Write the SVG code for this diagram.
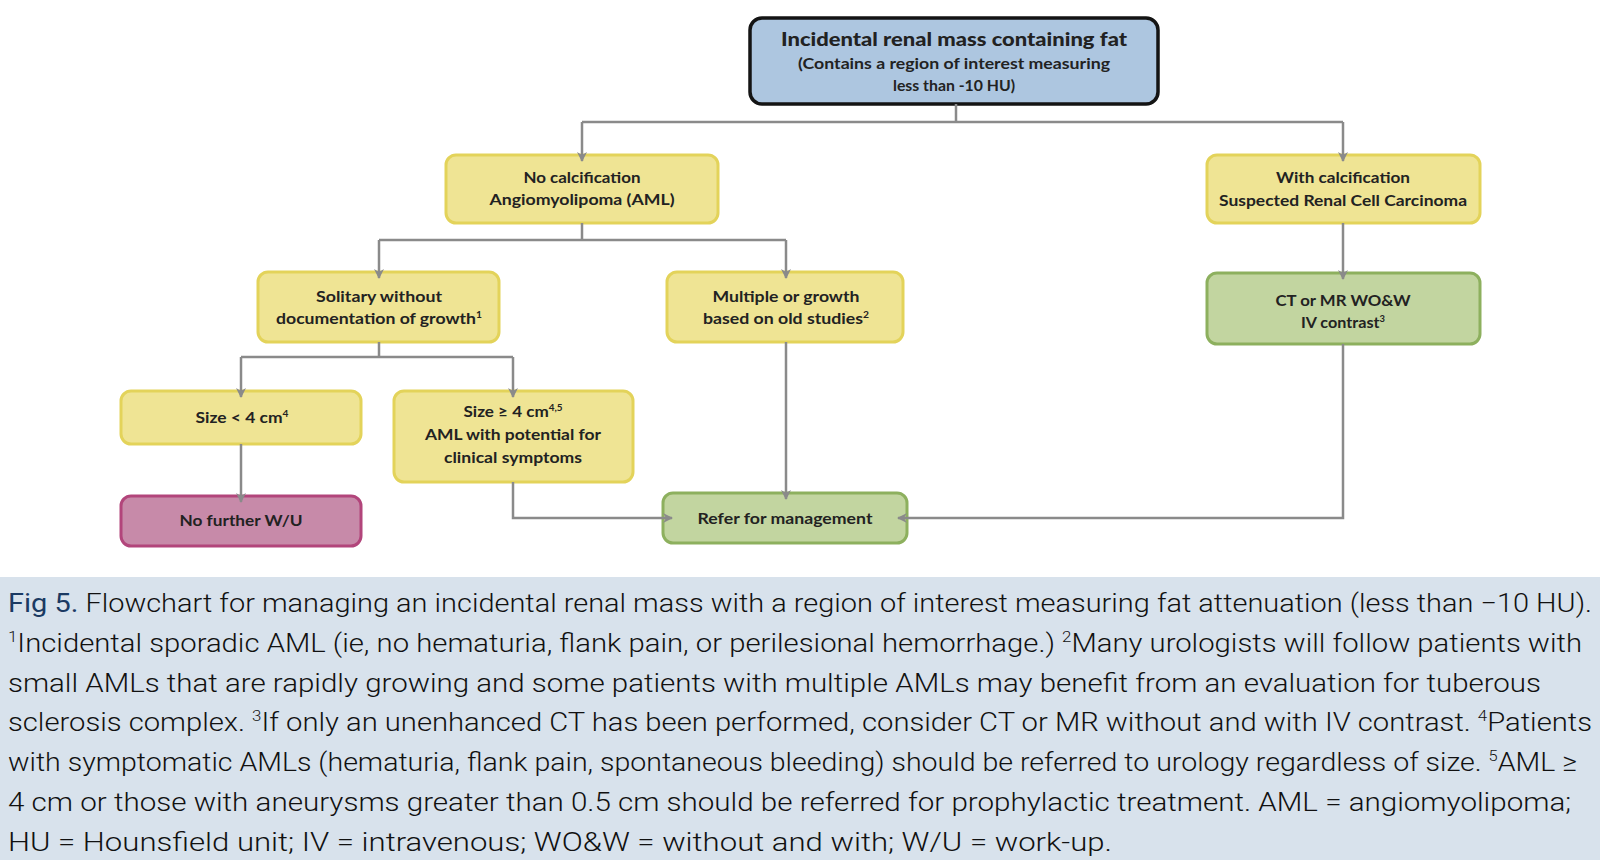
<svg xmlns="http://www.w3.org/2000/svg" width="1600" height="860" viewBox="0 0 1600 860">
<defs>
<marker id="arr" viewBox="0 0 10 10" refX="9" refY="5" markerWidth="10" markerHeight="10" markerUnits="userSpaceOnUse" orient="auto">
<path d="M0,0 L10,5 L0,10 L3,5 z" fill="#8a8a8a"/>
</marker>
</defs>
<style>
.n text{font-family:"Lato","Open Sans",sans-serif;font-weight:700;font-size:15.5px;fill:#222;text-anchor:middle}
.y{fill:#efe494;stroke:#e3d35a;stroke-width:3}
.g{fill:#c2d5a0;stroke:#8db05e;stroke-width:3}
.p{fill:#c78aa9;stroke:#b2457b;stroke-width:3}
.b{fill:#adc6e0;stroke:#141414;stroke-width:3.5}
.c{fill:none;stroke:#8a8a8a;stroke-width:2.5}
.cap{font-family:"Roboto","Liberation Sans",sans-serif;font-weight:300;font-size:26px;fill:#111}
.sup{font-size:15px}
</style>
<rect x="0" y="0" width="1600" height="860" fill="#ffffff"/>
<rect x="0" y="577" width="1600" height="283" fill="#d8e2ec"/>

<g id="n-top" class="n">
<rect class="b" x="750" y="18" width="408" height="86" rx="12"/>
<text x="954" y="46" style="font-size:18px;font-weight:900" textLength="346" lengthAdjust="spacingAndGlyphs">Incidental renal mass containing fat</text>
<text x="954" y="69" style="font-size:15px" textLength="312" lengthAdjust="spacingAndGlyphs">(Contains a region of interest measuring</text>
<text x="954" y="91" style="font-size:15px" textLength="122" lengthAdjust="spacingAndGlyphs">less than -10 HU)</text>
</g>

<g id="n-nocalc" class="n">
<rect class="y" x="446" y="155" width="272" height="68" rx="10"/>
<text x="582" y="183" textLength="117" lengthAdjust="spacingAndGlyphs">No calcification</text>
<text x="582" y="205" textLength="185" lengthAdjust="spacingAndGlyphs">Angiomyolipoma (AML)</text>
</g>

<g id="n-withcalc" class="n">
<rect class="y" x="1207" y="155" width="273" height="68" rx="10"/>
<text x="1343" y="183" textLength="134" lengthAdjust="spacingAndGlyphs">With calcification</text>
<text x="1343" y="206" textLength="248" lengthAdjust="spacingAndGlyphs">Suspected Renal Cell Carcinoma</text>
</g>

<g id="n-ct" class="n">
<rect class="g" x="1207" y="273" width="273" height="71" rx="10"/>
<text x="1343" y="306" textLength="135" lengthAdjust="spacingAndGlyphs">CT or MR WO&amp;W</text>
<text x="1343" y="328" textLength="84" lengthAdjust="spacingAndGlyphs">IV contrast<tspan font-size="9" dy="-6">3</tspan></text>
</g>

<g id="n-solitary" class="n">
<rect class="y" x="258" y="272" width="241" height="70" rx="10"/>
<text x="379" y="302" textLength="126" lengthAdjust="spacingAndGlyphs">Solitary without</text>
<text x="379" y="324" textLength="206" lengthAdjust="spacingAndGlyphs">documentation of growth<tspan font-size="9" dy="-6">1</tspan></text>
</g>

<g id="n-multiple" class="n">
<rect class="y" x="667" y="272" width="236" height="70" rx="10"/>
<text x="786" y="302" textLength="147" lengthAdjust="spacingAndGlyphs">Multiple or growth</text>
<text x="786" y="324" textLength="166" lengthAdjust="spacingAndGlyphs">based on old studies<tspan font-size="9" dy="-6">2</tspan></text>
</g>

<g id="n-small" class="n">
<rect class="y" x="121" y="391" width="240" height="53" rx="10"/>
<text x="242" y="423" textLength="93" lengthAdjust="spacingAndGlyphs">Size &lt; 4 cm<tspan font-size="9" dy="-6">4</tspan></text>
</g>

<g id="n-large" class="n">
<rect class="y" x="394" y="391" width="239" height="91" rx="10"/>
<text x="513" y="417" textLength="99" lengthAdjust="spacingAndGlyphs">Size ≥ 4 cm<tspan font-size="9" dy="-6">4,5</tspan></text>
<text x="513" y="440" textLength="176" lengthAdjust="spacingAndGlyphs">AML with potential for</text>
<text x="513" y="463" textLength="138" lengthAdjust="spacingAndGlyphs">clinical symptoms</text>
</g>

<g id="n-nofurther" class="n">
<rect class="p" x="121" y="496" width="240" height="50" rx="10"/>
<text x="241" y="526" textLength="123" lengthAdjust="spacingAndGlyphs">No further W/U</text>
</g>

<g id="n-refer" class="n">
<rect class="g" x="663" y="493" width="244" height="50" rx="10"/>
<text x="785" y="524" textLength="175" lengthAdjust="spacingAndGlyphs">Refer for management</text>
</g>

<g id="connectors">
<path class="c" d="M956,104 V122 M582,122 H1343"/>
<path class="c" d="M582,122 V161" marker-end="url(#arr)"/>
<path class="c" d="M1343,122 V161" marker-end="url(#arr)"/>
<path class="c" d="M582,223 V240 M379,240 H786"/>
<path class="c" d="M379,240 V278" marker-end="url(#arr)"/>
<path class="c" d="M786,240 V278" marker-end="url(#arr)"/>
<path class="c" d="M1343,223 V279" marker-end="url(#arr)"/>
<path class="c" d="M379,342 V357 M241,357 H513"/>
<path class="c" d="M241,357 V397" marker-end="url(#arr)"/>
<path class="c" d="M513,357 V397" marker-end="url(#arr)"/>
<path class="c" d="M241,444 V502" marker-end="url(#arr)"/>
<path class="c" d="M786,342 V499" marker-end="url(#arr)"/>
<path class="c" d="M513,482 V518 H672" marker-end="url(#arr)"/>
<path class="c" d="M1343,344 V518 H898" marker-end="url(#arr)"/>
</g>

<g id="caption">
<text class="cap" x="8" y="612" textLength="1584" lengthAdjust="spacingAndGlyphs"><tspan fill="#1b3a63" font-weight="400">Fig 5.</tspan> Flowchart for managing an incidental renal mass with a region of interest measuring fat attenuation (less than −10 HU).</text>
<text class="cap" x="8" y="652" textLength="1574" lengthAdjust="spacingAndGlyphs"><tspan class="sup" dy="-10">1</tspan><tspan dy="10">Incidental sporadic AML (ie, no hematuria, flank pain, or perilesional hemorrhage.) </tspan><tspan class="sup" dy="-10">2</tspan><tspan dy="10">Many urologists will follow patients with</tspan></text>
<text class="cap" x="8" y="692" textLength="1533" lengthAdjust="spacingAndGlyphs">small AMLs that are rapidly growing and some patients with multiple AMLs may benefit from an evaluation for tuberous</text>
<text class="cap" x="8" y="731" textLength="1584" lengthAdjust="spacingAndGlyphs">sclerosis complex. <tspan class="sup" dy="-10">3</tspan><tspan dy="10">If only an unenhanced CT has been performed, consider CT or MR without and with IV contrast. </tspan><tspan class="sup" dy="-10">4</tspan><tspan dy="10">Patients</tspan></text>
<text class="cap" x="8" y="771" textLength="1569" lengthAdjust="spacingAndGlyphs">with symptomatic AMLs (hematuria, flank pain, spontaneous bleeding) should be referred to urology regardless of size. <tspan class="sup" dy="-10">5</tspan><tspan dy="10">AML ≥</tspan></text>
<text class="cap" x="8" y="811" textLength="1563" lengthAdjust="spacingAndGlyphs">4 cm or those with aneurysms greater than 0.5 cm should be referred for prophylactic treatment. AML = angiomyolipoma;</text>
<text class="cap" x="8" y="851" textLength="1104" lengthAdjust="spacingAndGlyphs">HU = Hounsfield unit; IV = intravenous; WO&amp;W = without and with; W/U = work-up.</text>
</g>
</svg>
